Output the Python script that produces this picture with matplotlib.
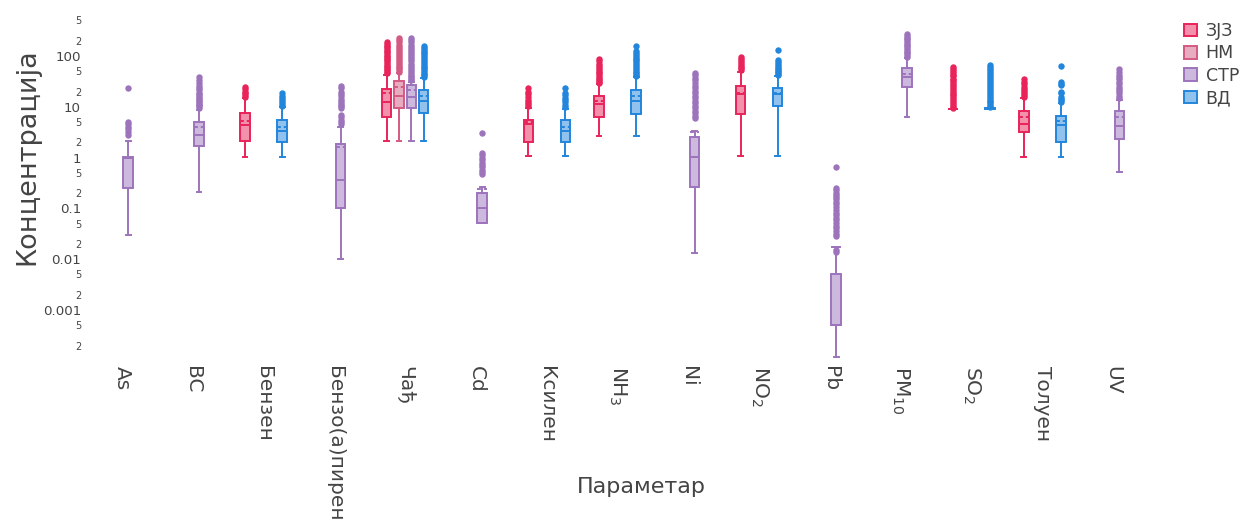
import matplotlib
matplotlib.use("Agg")
import matplotlib.pyplot as plt
from matplotlib.patches import Patch
from matplotlib.colors import to_rgba
from matplotlib.ticker import FixedLocator, FixedFormatter

plt.rcParams["font.family"] = ["DejaVu Sans"]
plt.rcParams["mathtext.fontset"] = "dejavusans"

categories = ["As", "BC", "Бензен", "Бензо(а)пирен", "Чађ", "Cd", "Ксилен",
              "NH$_3$", "Ni", "NO$_2$", "Pb", "PM$_{10}$", "SO$_2$", "Толуен", "UV"]
groups = ["ЗЈЗ", "НМ", "СТР", "ВД"]
colors = ["#E8245A", "#D35A83", "#9D74BC", "#2286DC"]

# ЗЈЗ
zjz_cats = ["Бензен", "Чађ", "Ксилен", "NH$_3$", "NO$_2$", "SO$_2$", "Толуен"]
zjz_lo = [1.04, 2.15, 1.07, 2.66, 1.07, 8.9, 1.04]
zjz_q1 = [2.12, 6.38, 2.06, 6.2, 7.3, 8.9, 3.15]
zjz_med = [4.38, 12.3, 4.58, 11.2, 17.9, 8.9, 4.5]
zjz_q3 = [7.65, 22.4, 5.5, 16.3, 26.0, 8.9, 8.4]
zjz_hi = [14.7, 42.3, 9.35, 28.0, 49.0, 8.9, 14.7]
zjz_mean = [5.3, 18.4, 5.0, 13.0, 19.0, 8.9, 6.4]
zjz_out = [
    [24, 22, 20, 18.5, 17, 15.8],
    [190, 175, 160, 148, 137, 127, 118, 110, 102, 95, 88, 82, 76, 70, 65, 60, 56, 52, 49, 46],
    [23, 20, 17.5, 15.5, 13.8, 12.4, 11.2, 10.2],
    [86, 78, 71, 65, 59, 54, 49.5, 45.5, 42, 38.5, 35.5, 33, 30.5, 29],
    [97, 88, 80, 73, 67, 62, 57, 53],
    [61, 56, 51, 47, 43, 39.5, 36, 33, 30.5, 28, 25.5, 23.5, 21.5, 19.8, 18.2,
     16.7, 15.3, 14, 12.9, 11.8, 10.9, 10.1, 9.4],
    [34.8, 31, 28, 25, 22.5, 20.3, 18.4, 16.8, 15.6],
]

# НМ
nm_cats = ["Чађ"]
nm_lo = [2.15]
nm_q1 = [9.6]
nm_med = [16.3]
nm_q3 = [32.6]
nm_hi = [45.6]
nm_mean = [24.9]
nm_out = [
    [224, 205, 185, 165, 150, 138, 125, 115, 105, 96, 88, 80, 73, 67, 62, 57, 53, 49],
]

# СТР
str_cats = ["As", "BC", "Бензо(а)пирен", "Чађ", "Cd", "Ni", "Pb", "PM$_{10}$", "UV"]
str_lo = [0.030, 0.207, 0.0101, 2.15, 0.051, 0.0134, 0.000117, 6.4, 0.514]
str_q1 = [0.255, 1.69, 0.100, 9.6, 0.051, 0.26, 0.000507, 24.9, 2.29]
str_med = [1.0, 2.79, 0.362, 15.4, 0.103, 1.04, 0.000507, 39.0, 4.19]
str_q3 = [1.04, 5.09, 1.85, 26.9, 0.204, 2.58, 0.00511, 57.0, 8.4]
str_hi = [2.15, 8.65, 4.06, 31.2, 0.268, 3.3, 0.0176, 90.0, 13.6]
str_mean = [1.0, 4.06, 1.64, 21.4, 0.245, 3.2, 0.0172, 43.6, 6.4]
str_out = [
    [23, 5.0, 4.5, 4.0, 3.6, 3.2, 2.8],
    [38, 33, 29, 26, 23, 21, 19, 17.5, 16, 15, 14, 13, 12.2, 11.5, 10.8, 10.2, 9.6],
    [26, 23, 20, 18, 16, 14.5, 13, 12, 11, 10.2, 9.4, 6.9, 6.2, 5.6, 5.0, 4.5],
    [224, 205, 185, 168, 152, 138, 125, 114, 104, 95, 86, 78, 71, 65, 59, 54, 49, 45,
     41, 38, 35.5, 33.6],
    [3.1, 1.25, 1.1, 1.0, 0.9, 0.8, 0.72, 0.65, 0.58, 0.52, 0.47],
    [47, 42, 37, 33, 29, 26, 23, 20.5, 18.5, 16.5, 14.8, 13.2, 11.8, 10.5, 9.4, 8.4,
     7.5, 6.7, 6.0],
    [0.64, 0.255, 0.23, 0.205, 0.185, 0.165, 0.15, 0.135, 0.12, 0.105, 0.093, 0.083,
     0.074, 0.066, 0.058, 0.052, 0.046, 0.041, 0.036, 0.032, 0.028, 0.0152, 0.0136],
    [271, 250, 230, 212, 196, 181, 167, 155, 143, 132, 122, 113, 105, 97],
    [55, 48, 43, 38.5, 34.5, 31, 28, 25, 22.5, 20.3, 18.3, 16.5, 15],
]

# ВД
vd_cats = ["Бензен", "Чађ", "Ксилен", "NH$_3$", "NO$_2$", "SO$_2$", "Толуен"]
vd_lo = [1.04, 2.15, 1.07, 2.66, 1.07, 8.9, 1.04]
vd_q1 = [2.06, 7.45, 2.06, 7.2, 10.4, 8.9, 2.06]
vd_med = [3.39, 13.0, 3.34, 13.0, 17.6, 8.9, 4.38]
vd_q3 = [5.42, 21.4, 5.5, 21.7, 23.8, 9.6, 6.6]
vd_hi = [10.0, 36.4, 8.94, 38.0, 40.0, 9.6, 11.7]
vd_mean = [4.06, 16.3, 3.95, 16.3, 19.0, 9.2, 5.25]
vd_out = [
    [18.4, 16.5, 15, 13.5, 12.3, 11.3, 10.6],
    [157, 145, 133, 122, 112, 103, 95, 87, 80, 73, 67, 62, 57, 52.5, 48, 44.5, 41.5, 39],
    [23.8, 19, 17, 15, 13.5, 12.2, 11, 10],
    [157, 127, 116, 106, 97, 89, 82, 75, 69, 63, 58, 53, 49, 45.5, 42.5, 40.5],
    [131, 83, 76, 70, 64, 59, 55, 51, 47.5, 44.5, 42],
    [66, 60, 55, 50, 46, 42, 38.5, 35, 32, 29.5, 27, 24.5, 22.5, 20.5, 18.8, 17.2,
     15.8, 14.5, 13.3, 12.2, 11.2, 10.3, 9.8],
    [63.6, 31, 28.5, 26.5, 20, 18.5, 15.8, 14.5, 13.5, 12.6],
]

group_data = [
    (zjz_cats, zjz_lo, zjz_q1, zjz_med, zjz_q3, zjz_hi, zjz_mean, zjz_out),
    (nm_cats, nm_lo, nm_q1, nm_med, nm_q3, nm_hi, nm_mean, nm_out),
    (str_cats, str_lo, str_q1, str_med, str_q3, str_hi, str_mean, str_out),
    (vd_cats, vd_lo, vd_q1, vd_med, vd_q3, vd_hi, vd_mean, vd_out),
]

W, H = 1247, 523
fig = plt.figure(figsize=(W / 100, H / 100), dpi=100)
left, right, top, bottom = 86.6, 1148.6, 5.2, 360.8
ax = fig.add_axes([left / W, 1 - bottom / H, (right - left) / W, (bottom - top) / H])

slot = 0.7 / len(groups)
box_w = slot * 0.76
lw = 1.4
text_col = "#444444"

for k, (cats, lo, q1, med, q3, hi, mean, out) in enumerate(group_data):
    col = colors[k]
    stats, pos = [], []
    for c, a, b, m, d, e, mu, fl in zip(cats, lo, q1, med, q3, hi, mean, out):
        stats.append(dict(whislo=a, q1=b, med=m, q3=d, whishi=e, mean=mu, fliers=fl))
        pos.append(categories.index(c) + (k - 1.5) * slot)
    ax.bxp(stats, positions=pos, widths=box_w, patch_artist=True,
           showmeans=True, meanline=True, manage_ticks=False,
           capwidths=box_w * 0.5,
           boxprops=dict(facecolor=to_rgba(col, 0.5), edgecolor=col, linewidth=lw),
           whiskerprops=dict(color=col, linewidth=lw),
           capprops=dict(color=col, linewidth=lw),
           medianprops=dict(color=col, linewidth=lw),
           meanprops=dict(color=col, linewidth=lw, linestyle=(0, (2, 1.5))),
           flierprops=dict(marker="o", markerfacecolor=col, markeredgecolor="none",
                           markersize=4.6))

ax.set_yscale("log")
ax.set_ylim(1.0e-4, 1000)
ax.set_xlim(-0.5, len(categories) - 0.5)

major = [1e-3, 1e-2, 0.1, 1, 10, 100]
major_lbl = ["0.001", "0.01", "0.1", "1", "10", "100"]
minor = [2e-4, 5e-4, 2e-3, 5e-3, 2e-2, 5e-2, 0.2, 0.5, 2, 5, 20, 50, 200, 500]
minor_lbl = ["2", "5"] * 7
ax.yaxis.set_major_locator(FixedLocator(major))
ax.yaxis.set_major_formatter(FixedFormatter(major_lbl))
ax.yaxis.set_minor_locator(FixedLocator(minor))
ax.yaxis.set_minor_formatter(FixedFormatter(minor_lbl))
ax.tick_params(axis="y", which="major", length=0, pad=4, labelsize=9.6, labelcolor=text_col)
ax.tick_params(axis="y", which="minor", length=0, pad=4, labelsize=7, labelcolor=text_col)

ax.set_xticks(range(len(categories)))
ax.set_xticklabels(categories, rotation=-90, va="top", ha="center")
ax.tick_params(axis="x", length=0, pad=4, labelsize=14.5, labelcolor=text_col)

for s in ax.spines.values():
    s.set_visible(False)

fig.text(27 / W, 1 - 157 / H, "Концентрација", rotation=90, ha="center", va="center",
         fontsize=19.5, color=text_col)
fig.text(641 / W, 1 - 487 / H, "Параметар", ha="center", va="center",
         fontsize=16, color=text_col)

handles = [Patch(facecolor=to_rgba(c, 0.5), edgecolor=c, linewidth=1.4) for c in colors]
fig.legend(handles, groups, loc="upper left", bbox_to_anchor=(1184 / W, 1 - 22 / H),
           frameon=False, fontsize=12.5, handlelength=0.75, handleheight=0.75,
           handletextpad=0.5, labelspacing=0.25, borderaxespad=0, borderpad=0,
           labelcolor=text_col)

fig.savefig("out.png", dpi=100)
